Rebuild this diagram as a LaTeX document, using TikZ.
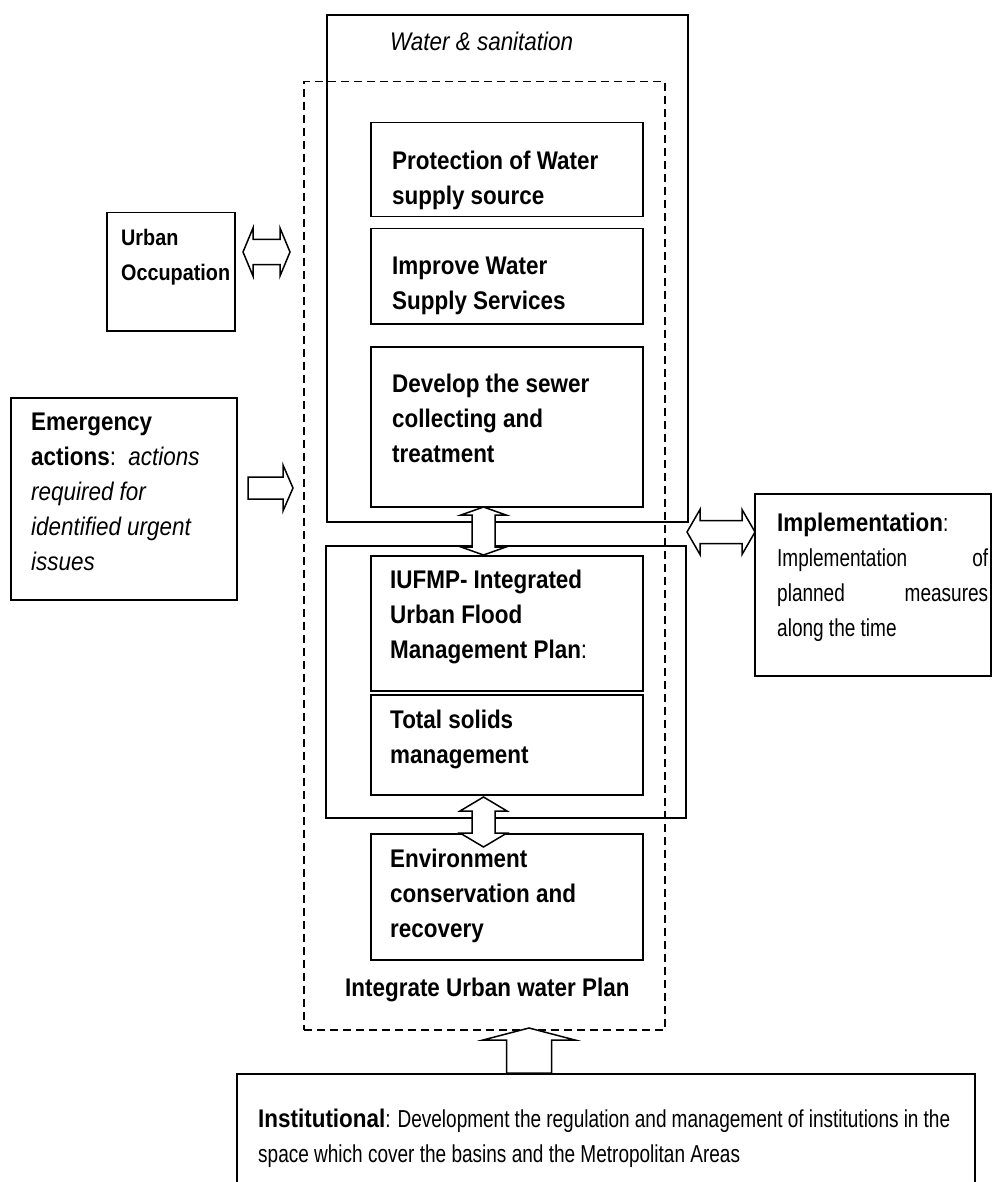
\documentclass[tikz,border=0pt]{standalone}
\usepackage{fontspec}
\setmainfont{Liberation Sans}[FakeStretch=0.88]
\newfontfamily\regfont{Liberation Sans}[FakeStretch=0.776]
\usetikzlibrary{calc}

% bold words set in the main face inside the narrower running text
\newcommand\mainbf[1]{{\normalfont\fontsize{25.5}{35}\selectfont\bfseries #1}}

% block arrow helpers: horizontal double, horizontal single (pointing right), vertical double, vertical single (pointing up)
\newcommand\blockHH[6]{% left x, right x, centre y, shaft half, head half, head length
  \draw[blockarrow] (#1,#3) -- (#1+#6,#3-#5) -- (#1+#6,#3-#4) -- (#2-#6,#3-#4) -- (#2-#6,#3-#5)
    -- (#2,#3) -- (#2-#6,#3+#5) -- (#2-#6,#3+#4) -- (#1+#6,#3+#4) -- (#1+#6,#3+#5) -- cycle;}
\newcommand\blockHR[6]{% tail x, tip x, centre y, shaft half, head half, head length
  \draw[blockarrow] (#1,#3-#4) -- (#2-#6,#3-#4) -- (#2-#6,#3-#5) -- (#2,#3) -- (#2-#6,#3+#5)
    -- (#2-#6,#3+#4) -- (#1,#3+#4) -- cycle;}
\newcommand\blockVV[7]{% centre x, top y, bottom y, shaft half, head half, top head length, bottom head length
  \draw[blockarrow] (#1,#2) -- (#1+#5,#2+#6) -- (#1+#4,#2+#6) -- (#1+#4,#3-#7) -- (#1+#5,#3-#7)
    -- (#1,#3) -- (#1-#5,#3-#7) -- (#1-#4,#3-#7) -- (#1-#4,#2+#6) -- (#1-#5,#2+#6) -- cycle;}
\newcommand\blockVU[6]{% centre x, tip y, tail y, shaft half, head half, head length
  \draw[blockarrow] (#1,#2) -- (#1+#5,#2+#6) -- (#1+#4,#2+#6) -- (#1+#4,#3) -- (#1-#4,#3)
    -- (#1-#4,#2+#6) -- (#1-#5,#2+#6) -- cycle;}

\tikzset{
  box/.style={draw, line width=1.5pt, anchor=north west, inner sep=0pt},
  groupbox/.style={draw, line width=1.7pt, anchor=north west, inner sep=0pt},
  planbox/.style={draw, line width=1.5pt, dash pattern=on 8pt off 5pt, anchor=north west, inner sep=0pt},
  txt/.style={anchor=north west, inner sep=0pt, align=left,
    font=\fontsize{25.5}{35}\selectfont},
  jtxt/.style={anchor=north west, inner sep=0pt, align=justify,
    font=\regfont\fontsize{24.5}{35}\selectfont},
  blockarrow/.style={draw, fill=white, line width=1.5pt, line join=miter},
}

\begin{document}
\begin{tikzpicture}[x=1pt, y=-1pt]
\useasboundingbox (0,0) rectangle (992,1182);

% water & sanitation group
\node[groupbox, minimum width=361pt, minimum height=507pt] (ws) at (326,14) {};
% integrated urban water plan (dashed)
\node[planbox, minimum width=361pt, minimum height=948pt] (plan) at (303,81) {};
% drainage group
\node[groupbox, minimum width=360pt, minimum height=272pt] (drain) at (325,545) {};

% inner boxes
\node[box, minimum width=272pt, minimum height=94pt]  (prot) at (370,122) {};
\node[box, minimum width=272pt, minimum height=95pt]  (impr) at (370,228) {};
\node[box, minimum width=272pt, minimum height=160pt] (sewer) at (370,346) {};
\node[box, minimum width=272pt, minimum height=135pt] (iufmp) at (370,555) {};
\node[box, minimum width=272pt, minimum height=100pt] (solid) at (370,694) {};
\node[box, minimum width=272pt, minimum height=126pt] (env) at (370,833) {};

% outer boxes
\node[box, minimum width=128pt, minimum height=118pt] (urban) at (106,212) {};
\node[box, minimum width=226pt, minimum height=202pt] (emerg) at (10,397) {};
\node[box, minimum width=236pt, minimum height=182pt] (impl) at (754,493) {};
\node[box, minimum width=738pt, minimum height=120pt] (inst) at (236,1073) {};

% texts
\node[txt] (wsT) at (390,32) {\itshape Water \& sanitation};
\node[txt] (protT) at (392,151) {\bfseries Protection of Water\\\bfseries supply source};
\node[txt] (imprT) at (392,257) {\bfseries Improve Water\\\bfseries Supply Services};
\node[txt] (sewerT) at (392,374) {\bfseries Develop the sewer\\\bfseries collecting and\\\bfseries treatment};
\node[txt] (iufmpT) at (390,570) {\bfseries IUFMP- Integrated\\\bfseries Urban Flood\\\textbf{Management Plan}:};
\node[txt] (solidT) at (390,710) {\bfseries Total solids\\\bfseries management};
\node[txt] (envT) at (390,849) {\bfseries Environment\\\bfseries conservation and\\\bfseries recovery};
\node[txt] (planT) at (345,978) {\bfseries Integrate Urban water Plan};

\node[txt, font=\fontsize{22.5}{35}\selectfont] (urbanT) at (121,229) {\bfseries Urban\\\bfseries Occupation};
\node[txt] (emergT) at (31,413) {\bfseries Emergency\\\textbf{actions}:~~\textit{actions}\\\itshape required for\\\itshape identified urgent\\\itshape issues};
\node[jtxt, text width=211pt] (implT) at (777,513)
  {\hyphenpenalty=10000 \mainbf{Implementation}:\\Implementation of\linebreak planned measures\linebreak along the time};
\node[jtxt, text width=692pt] (instT) at (258,1109)
  {\hyphenpenalty=10000 \mainbf{Institutional}: Development the regulation and management of institutions in the\linebreak space which cover the basins and the Metropolitan Areas};

% block arrows
\blockHH{243}{290}{252}{12.5}{24}{10}
\blockHR{248}{293}{488}{11}{23}{10}
\blockHH{687}{755}{532}{11.5}{22.5}{13}
\blockVV{483.5}{507}{555}{11.5}{22.5}{8}{8}
\blockVV{483.5}{797}{847}{11.5}{23.5}{14}{14}
\blockVU{529}{1028}{1073}{22.5}{46}{12}
\end{tikzpicture}
\end{document}
